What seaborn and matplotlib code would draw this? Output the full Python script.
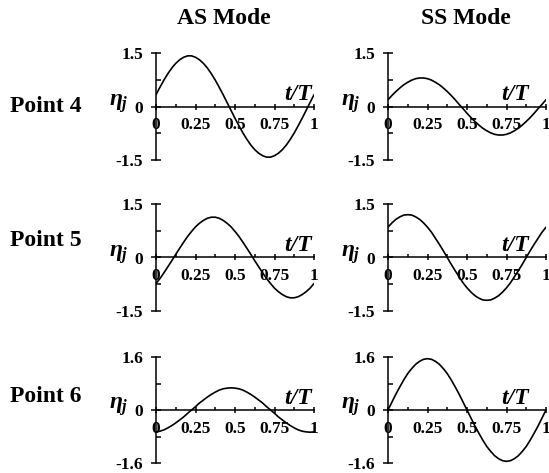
import numpy as np
import matplotlib
matplotlib.use("Agg")
import matplotlib.pyplot as plt
import seaborn as sns

sns.set_theme(style="ticks", rc={
    "axes.edgecolor": "black",
    "xtick.color": "black",
    "ytick.color": "black",
    "text.color": "black",
    "axes.linewidth": 1.1,
})
plt.rcParams["font.family"] = ["Liberation Serif", "DejaVu Serif"]
plt.rcParams["font.weight"] = "bold"
plt.rcParams["mathtext.fontset"] = "custom"
plt.rcParams["mathtext.it"] = "Liberation Serif:italic:bold"
plt.rcParams["mathtext.rm"] = "Liberation Serif:bold"

# time over one period, t/T
t = np.linspace(0.0, 1.0, 41)

# wave elevation at each point, antisymmetric (AS) and symmetric (SS) modes
as_p4 = [0.33, 0.54, 0.74, 0.92, 1.08, 1.21, 1.31, 1.38, 1.42, 1.42, 1.38,
         1.31, 1.21, 1.08, 0.92, 0.74, 0.54, 0.33, 0.11, -0.11, -0.33, -0.54,
         -0.74, -0.92, -1.08, -1.21, -1.31, -1.38, -1.42, -1.42, -1.38, -1.31,
         -1.21, -1.08, -0.92, -0.74, -0.54, -0.33, -0.11, 0.11, 0.33]
ss_p4 = [0.19, 0.31, 0.42, 0.52, 0.61, 0.68, 0.74, 0.78, 0.80, 0.80, 0.78,
         0.74, 0.68, 0.61, 0.52, 0.42, 0.31, 0.19, 0.06, -0.06, -0.19, -0.31,
         -0.42, -0.52, -0.61, -0.68, -0.74, -0.78, -0.80, -0.80, -0.78, -0.74,
         -0.68, -0.61, -0.52, -0.42, -0.31, -0.19, -0.06, 0.06, 0.19]
as_p5 = [-0.73, -0.59, -0.43, -0.26, -0.09, 0.09, 0.26, 0.43, 0.59, 0.73,
         0.86, 0.96, 1.04, 1.10, 1.13, 1.13, 1.10, 1.04, 0.96, 0.86, 0.73,
         0.59, 0.43, 0.26, 0.09, -0.09, -0.26, -0.43, -0.59, -0.73, -0.86,
         -0.96, -1.04, -1.10, -1.13, -1.13, -1.10, -1.04, -0.96, -0.86, -0.73]
ss_p5 = [0.85, 0.97, 1.07, 1.14, 1.19, 1.20, 1.19, 1.14, 1.07, 0.97, 0.85,
         0.71, 0.54, 0.37, 0.19, 0.00, -0.19, -0.37, -0.54, -0.71, -0.85,
         -0.97, -1.07, -1.14, -1.19, -1.20, -1.19, -1.14, -1.07, -0.97, -0.85,
         -0.71, -0.54, -0.37, -0.19, 0.00, 0.19, 0.37, 0.54, 0.71, 0.85]
as_p6 = [-0.66, -0.64, -0.60, -0.54, -0.47, -0.39, -0.30, -0.21, -0.10, 0.00,
         0.10, 0.21, 0.30, 0.39, 0.47, 0.54, 0.60, 0.64, 0.66, 0.67, 0.66,
         0.64, 0.60, 0.54, 0.47, 0.39, 0.30, 0.21, 0.10, 0.00, -0.10, -0.21,
         -0.30, -0.39, -0.47, -0.54, -0.60, -0.64, -0.66, -0.67, -0.66]
ss_p6 = [0.00, 0.24, 0.48, 0.70, 0.91, 1.10, 1.25, 1.38, 1.47, 1.53, 1.55,
         1.53, 1.47, 1.38, 1.25, 1.10, 0.91, 0.70, 0.48, 0.24, 0.00, -0.24,
         -0.48, -0.70, -0.91, -1.10, -1.25, -1.38, -1.47, -1.53, -1.55, -1.53,
         -1.47, -1.38, -1.25, -1.10, -0.91, -0.70, -0.48, -0.24, 0.00]

modes = ["AS Mode", "SS Mode"]
points = ["Point 4", "Point 5", "Point 6"]
series = [[as_p4, ss_p4], [as_p5, ss_p5], [as_p6, ss_p6]]
y_limits = [1.5, 1.5, 1.6]
y_labels = [["-1.5", "0", "1.5"], ["-1.5", "0", "1.5"], ["-1.6", "0", "1.6"]]
x_major = [0.0, 0.25, 0.5, 0.75, 1.0]
x_labels = ["0", "0.25", "0.5", "0.75", "1"]
x_minor = [0.125, 0.375, 0.625, 0.875]

W, H = 549, 473
fig = plt.figure(figsize=(W / 100, H / 100), dpi=100)

col_left = [156, 388]
col_width = 158
row_top = [53, 204, 357]
row_bottom = [160, 311, 463]
ttl_right = [0.985, 0.89]

for r in range(3):
    lim = y_limits[r]
    for c in range(2):
        rect = [col_left[c] / W, 1 - row_bottom[r] / H,
                col_width / W, (row_bottom[r] - row_top[r]) / H]
        ax = fig.add_axes(rect)
        ax.patch.set_alpha(0)
        sns.lineplot(x=t, y=series[r][c], ax=ax, color="black", linewidth=1.2)
        ax.set_xlim(0, 1)
        ax.set_ylim(-lim, lim)
        ax.set_xlabel("")
        ax.set_ylabel("")
        ax.spines["top"].set_visible(False)
        ax.spines["right"].set_visible(False)
        ax.spines["bottom"].set_position(("data", 0))
        ax.spines["left"].set_position(("data", 0))

        ax.set_xticks(x_major)
        ax.set_xticklabels(x_labels, fontweight="bold")
        ax.set_xticks(x_minor, minor=True)
        ax.set_yticks([-lim, 0, lim])
        ax.set_yticklabels(y_labels[r], fontweight="bold")
        ax.set_yticks([-lim / 2, lim / 2], minor=True)

        ax.tick_params(axis="x", which="major", direction="inout", length=4.5,
                       width=1.1, pad=5.5, labelsize=12.5)
        ax.tick_params(axis="x", which="minor", direction="in", length=2.5,
                       width=1.1)
        ax.tick_params(axis="y", which="major", direction="inout", length=6.5,
                       width=1.1, pad=6.0, labelsize=12.5)
        ax.tick_params(axis="y", which="minor", direction="in", length=3.5,
                       width=1.1)

        ax.text(ttl_right[c], 0.12 * lim, "t/T", ha="right", va="baseline",
                fontsize=17, fontweight="bold", fontstyle="italic")
        ax.text(-0.235, 0.06 * lim, r"$\eta_j$", ha="center", va="center",
                fontsize=17)

    yc = [107, 240, 397][r]
    fig.text(10 / W, 1 - yc / H, points[r], ha="left", va="center",
             fontsize=17, fontweight="bold")

for c, xc in enumerate([224, 466]):
    fig.text(xc / W, 1 - 19 / H, modes[c], ha="center", va="center",
             fontsize=17, fontweight="bold")

fig.savefig("out.png", dpi=100)
